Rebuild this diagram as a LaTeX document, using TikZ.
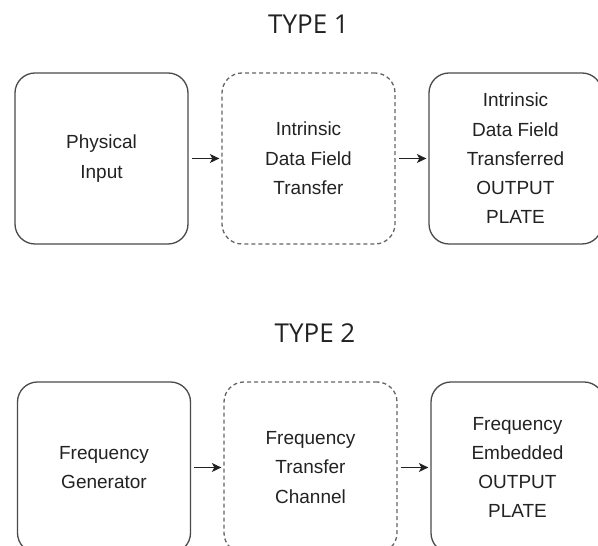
\documentclass[tikz,border=0pt]{standalone}
\usepackage{fontspec}
\setmainfont{Liberation Sans}
\newfontfamily\titlefont{Open Sans}
\usetikzlibrary{arrows.meta}

\definecolor{inkline}{HTML}{4A4A4A}
\definecolor{inktext}{HTML}{222222}

\tikzset{
  blockbox/.style={draw=inkline, line width=1.3pt, rounded corners=20pt,
    minimum width=173pt, minimum height=171pt, inner sep=0pt,
    align=center, text=inktext, font=\fontsize{19}{29.3}\selectfont},
  channelbox/.style={blockbox, draw=inkline!85, dash pattern=on 4pt off 3pt},
  flowarrow/.style={draw=inktext, line width=1.2pt,
    -{Stealth[length=9.5pt,width=9pt,inset=2.5pt]},
    shorten <=3pt, shorten >=2pt},
  heading/.style={anchor=base, text=inktext, inner sep=0pt,
    font=\titlefont\fontsize{26}{30}\selectfont}
}

\begin{document}
\begin{tikzpicture}[x=1pt, y=1pt]
  \useasboundingbox (0,0) rectangle (598,546);
  \clip (0,0) rectangle (598,546);

  % Type 1 row
  \node[heading] (t1) at (308.5,512) {TYPE 1};
  \node[blockbox]   (p1) at (101.5,387.5) {Physical\\Input};
  \node[channelbox] (c1) at (308.5,387.5) {Intrinsic\\Data Field\\Transfer};
  \node[blockbox]   (o1) at (515.5,387.5) {Intrinsic\\Data Field\\Transferred\\OUTPUT\\PLATE};
  \draw[flowarrow] (p1.east) -- (c1.west);
  \draw[flowarrow] (c1.east) -- (o1.west);

  % Type 2 row
  \node[heading] (t2) at (315,203) {TYPE 2};
  \node[blockbox]   (p2) at (104,78.5) {Frequency\\Generator};
  \node[channelbox] (c2) at (310.5,78.5) {Frequency\\Transfer\\Channel};
  \node[blockbox]   (o2) at (517.5,78.5) {Frequency\\Embedded\\OUTPUT\\PLATE};
  \draw[flowarrow] (p2.east) -- (c2.west);
  \draw[flowarrow] (c2.east) -- (o2.west);
\end{tikzpicture}
\end{document}
